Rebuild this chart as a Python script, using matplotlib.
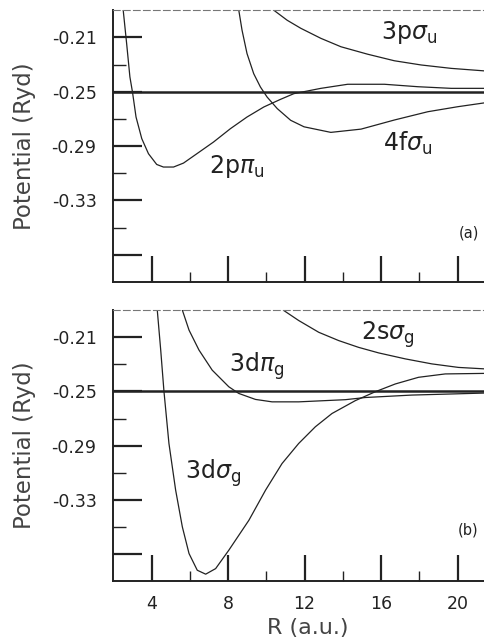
import numpy as np
import matplotlib
matplotlib.use("Agg")
import matplotlib.pyplot as plt
from matplotlib.ticker import FixedLocator, FixedFormatter

# values (R in a.u., potential in Ryd)
# panel (a)
R_2ppi = [2.40, 2.52, 2.70, 2.87, 3.01, 3.19, 3.49, 3.84, 4.27, 4.62, 5.15, 5.67, 6.37, 7.24, 8.12, 8.99, 9.87, 10.74, 11.44, 12.85, 14.25, 16.17, 17.92, 19.66, 21.44]
V_2ppi = [-0.172, -0.190, -0.2146, -0.2391, -0.2507, -0.2686, -0.2845, -0.2956, -0.3035, -0.3054, -0.3054, -0.3025, -0.2956, -0.2870, -0.2772, -0.2686, -0.2612, -0.2556, -0.2514, -0.2475, -0.2445, -0.2445, -0.2463, -0.2475, -0.2475]

R_4fsig = [8.45, 8.56, 8.73, 8.99, 9.34, 9.69, 10.04, 10.57, 11.27, 11.97, 13.37, 14.95, 16.69, 18.44, 20.01, 21.44]
V_4fsig = [-0.175, -0.190, -0.2047, -0.2219, -0.2367, -0.2465, -0.2539, -0.2624, -0.2710, -0.2758, -0.2799, -0.2775, -0.2708, -0.2647, -0.2610, -0.2581]

R_3psig = [10.1, 10.39, 11.09, 11.80, 12.85, 13.90, 15.30, 16.69, 18.09, 19.66, 21.44]
V_3psig = [-0.184, -0.190, -0.1974, -0.2033, -0.2107, -0.2169, -0.2224, -0.2272, -0.2303, -0.2328, -0.2347]

# panel (b)
R_3dsig = [4.27, 4.30, 4.48, 4.65, 4.91, 5.26, 5.61, 5.96, 6.39, 6.83, 7.35, 8.04, 9.09, 9.96, 10.82, 11.69, 12.56, 13.43, 14.65, 15.70, 16.74, 17.95, 19.35, 21.44]
V_3dsig = [-0.180, -0.190, -0.2195, -0.2500, -0.2884, -0.3228, -0.3499, -0.3696, -0.3819, -0.3848, -0.3807, -0.3671, -0.3450, -0.3228, -0.3032, -0.2884, -0.2761, -0.2663, -0.2568, -0.2502, -0.2445, -0.2396, -0.2371, -0.2367]

R_3dpi = [5.50, 5.61, 5.96, 6.48, 7.17, 8.04, 8.56, 9.43, 10.30, 11.69, 12.91, 14.13, 15.17, 17.60, 21.44]
V_3dpi = [-0.180, -0.190, -0.2048, -0.2195, -0.2343, -0.2466, -0.2515, -0.2559, -0.2577, -0.2577, -0.2569, -0.2561, -0.2545, -0.2527, -0.2512]

R_2ssig = [10.6, 10.91, 11.69, 12.74, 13.78, 14.82, 15.87, 17.26, 18.65, 20.04, 21.44]
V_2ssig = [-0.182, -0.1903, -0.1977, -0.2064, -0.2125, -0.2175, -0.2216, -0.2260, -0.2297, -0.2323, -0.2334]

threshold = -0.25
ytick_vals = [-0.37, -0.33, -0.29, -0.25, -0.21]
ytick_labels = ["", "-0.33", "-0.29", "-0.25", "-0.21"]
xtick_vals = [4, 8, 12, 16, 20]

ink = "#222222"
plt.rcParams["font.family"] = "DejaVu Sans"
plt.rcParams["mathtext.fontset"] = "dejavusans"

fig = plt.figure(figsize=(4.84, 6.38), dpi=100)
ax_a = fig.add_axes([0.234, 0.558, 0.767, 0.426])
ax_b = fig.add_axes([0.234, 0.089, 0.767, 0.425])


def style(ax, show_xlabels):
    ax.set_xlim(2.0, 21.4)
    ax.set_ylim(-0.39, -0.19)
    ax.yaxis.set_major_locator(FixedLocator(ytick_vals))
    ax.yaxis.set_major_formatter(FixedFormatter(ytick_labels))
    ax.yaxis.set_minor_locator(FixedLocator([-0.35, -0.31, -0.27, -0.23]))
    ax.xaxis.set_major_locator(FixedLocator(xtick_vals))
    ax.xaxis.set_minor_locator(FixedLocator([6, 10, 14, 18]))
    ax.tick_params(axis="y", which="major", direction="in", length=21, width=1.6,
                   pad=12, labelsize=12.5, labelcolor=ink, color=ink)
    ax.tick_params(axis="y", which="minor", direction="in", length=9, width=1.0, color=ink)
    ax.tick_params(axis="x", which="major", direction="in", length=19, width=1.6,
                   pad=10, labelsize=12.5, labelcolor=ink, color=ink,
                   labelbottom=show_xlabels)
    ax.tick_params(axis="x", which="minor", direction="in", length=7, width=1.0, color=ink)
    for s in ["left", "bottom"]:
        ax.spines[s].set_linewidth(1.4)
        ax.spines[s].set_color(ink)
    ax.spines["top"].set_linewidth(0.8)
    ax.spines["top"].set_linestyle((0, (6, 3)))
    ax.spines["top"].set_color("#777777")
    ax.spines["right"].set_visible(False)
    ax.axhline(threshold, color=ink, lw=1.8)
    ax.set_ylabel("Potential (Ryd)", fontsize=16.5, color="#444444", labelpad=11)


lw = 0.9
lab = dict(fontsize=17, color=ink, va="baseline", ha="left")

ax_a.plot(R_2ppi, V_2ppi, color=ink, lw=lw)
ax_a.plot(R_4fsig, V_4fsig, color=ink, lw=lw)
ax_a.plot(R_3psig, V_3psig, color=ink, lw=lw)
style(ax_a, False)
ax_a.text(16.0, -0.2113, r"3p$\sigma_\mathrm{u}$", **lab)
ax_a.text(16.08, -0.2935, r"4f$\sigma_\mathrm{u}$", **lab)
ax_a.text(7.0, -0.3099, r"2p$\pi_\mathrm{u}$", **lab)
ax_a.text(20.58, -0.3536, "(a)", fontsize=10.5, color=ink, va="center", ha="center")

ax_b.plot(R_3dsig, V_3dsig, color=ink, lw=lw)
ax_b.plot(R_3dpi, V_3dpi, color=ink, lw=lw)
ax_b.plot(R_2ssig, V_2ssig, color=ink, lw=lw)
style(ax_b, True)
ax_b.text(14.96, -0.2116, r"2s$\sigma_\mathrm{g}$", **lab)
ax_b.text(8.04, -0.2357, r"3d$\pi_\mathrm{g}$", **lab)
ax_b.text(5.75, -0.3145, r"3d$\sigma_\mathrm{g}$", **lab)
ax_b.text(20.56, -0.3520, "(b)", fontsize=10.5, color=ink, va="center", ha="center")
ax_b.set_xlabel("R (a.u.)", fontsize=16, color="#444444")
ax_b.xaxis.set_label_coords(0.523, -0.135)

fig.savefig("out.png", dpi=100)
